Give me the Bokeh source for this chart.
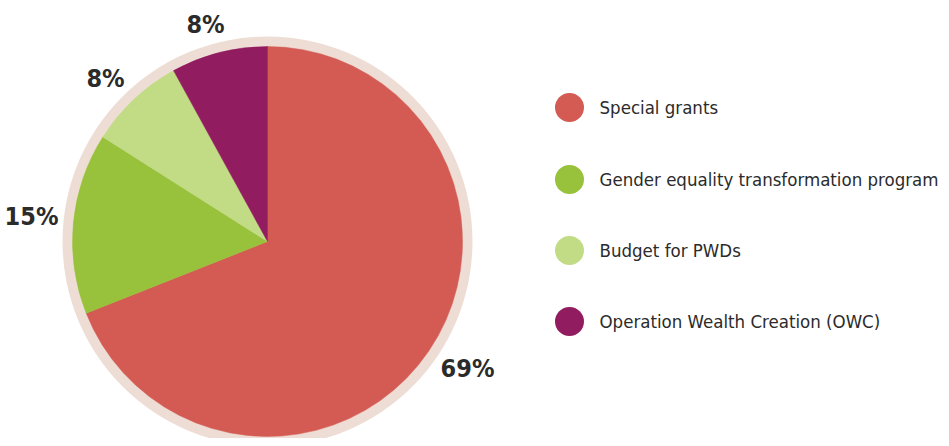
import math
from bokeh.plotting import figure
from bokeh.models import ColumnDataSource
from bokeh.core.properties import value
from bokeh.embed import file_html
from bokeh.resources import INLINE

# Data
categories = ["Special grants", "Gender equality transformation program",
              "Budget for PWDs", "Operation Wealth Creation (OWC)"]
shares = [69, 15, 8, 8]
colors = ["#D45B53", "#98C23B", "#C2DC85", "#911C5F"]
pct_labels = ["69%", "15%", "8%", "8%"]

W, H = 941, 438
p = figure(width=W, height=H, output_backend="svg", toolbar_location=None,
           x_range=(0, W), y_range=(-H, 0), min_border=0)
p.axis.visible = False
p.grid.visible = False
p.outline_line_color = None
p.background_fill_color = "white"
p.border_fill_color = "white"

cx, cy = 267, -241
R_ring, R_pie = 205, 195
FONT = "DejaVu Sans Condensed"

# ring
p.circle(x=[cx], y=[cy], radius=R_ring, fill_color="#EDDDD5", line_color=None)

# wedges: start at top; OWC, PWDs, Gender go counterclockwise, Special grants fills the rest
total = float(sum(shares))
angs = {}
a = math.pi / 2
for i in reversed(range(len(shares))):
    b = a + shares[i] / total * 2 * math.pi
    angs[i] = (a, b)
    a = b
starts = [angs[i][0] for i in range(len(shares))]
ends = [angs[i][1] for i in range(len(shares))]
src = ColumnDataSource(dict(start=starts, end=ends, color=colors))
p.wedge(x=cx, y=cy, radius=R_pie, start_angle="start", end_angle="end",
        fill_color="color", line_color="color", line_width=0.5, source=src)

# percentage labels (layout positions)
lab_x = [467, 31, 105, 205]
lab_y = [-368, -216, -78, -24]
p.text(x=lab_x, y=lab_y, text=pct_labels, text_align="center", text_baseline="middle",
       text_font=value(FONT), text_font_size="25px",
       text_font_style="bold", text_color="#2B2B2B")

# legend
leg_y = [-107, -179, -250, -321]
p.scatter(x=[569] * 4, y=leg_y, size=29, marker="circle", fill_color=colors, line_color=None)
p.text(x=[599] * 4, y=leg_y, text=categories, text_align="left", text_baseline="middle",
       text_font=value(FONT), text_font_size="18.5px",
       text_color="#2B2B2B")

open("out.html", "w").write(file_html(p, INLINE))
